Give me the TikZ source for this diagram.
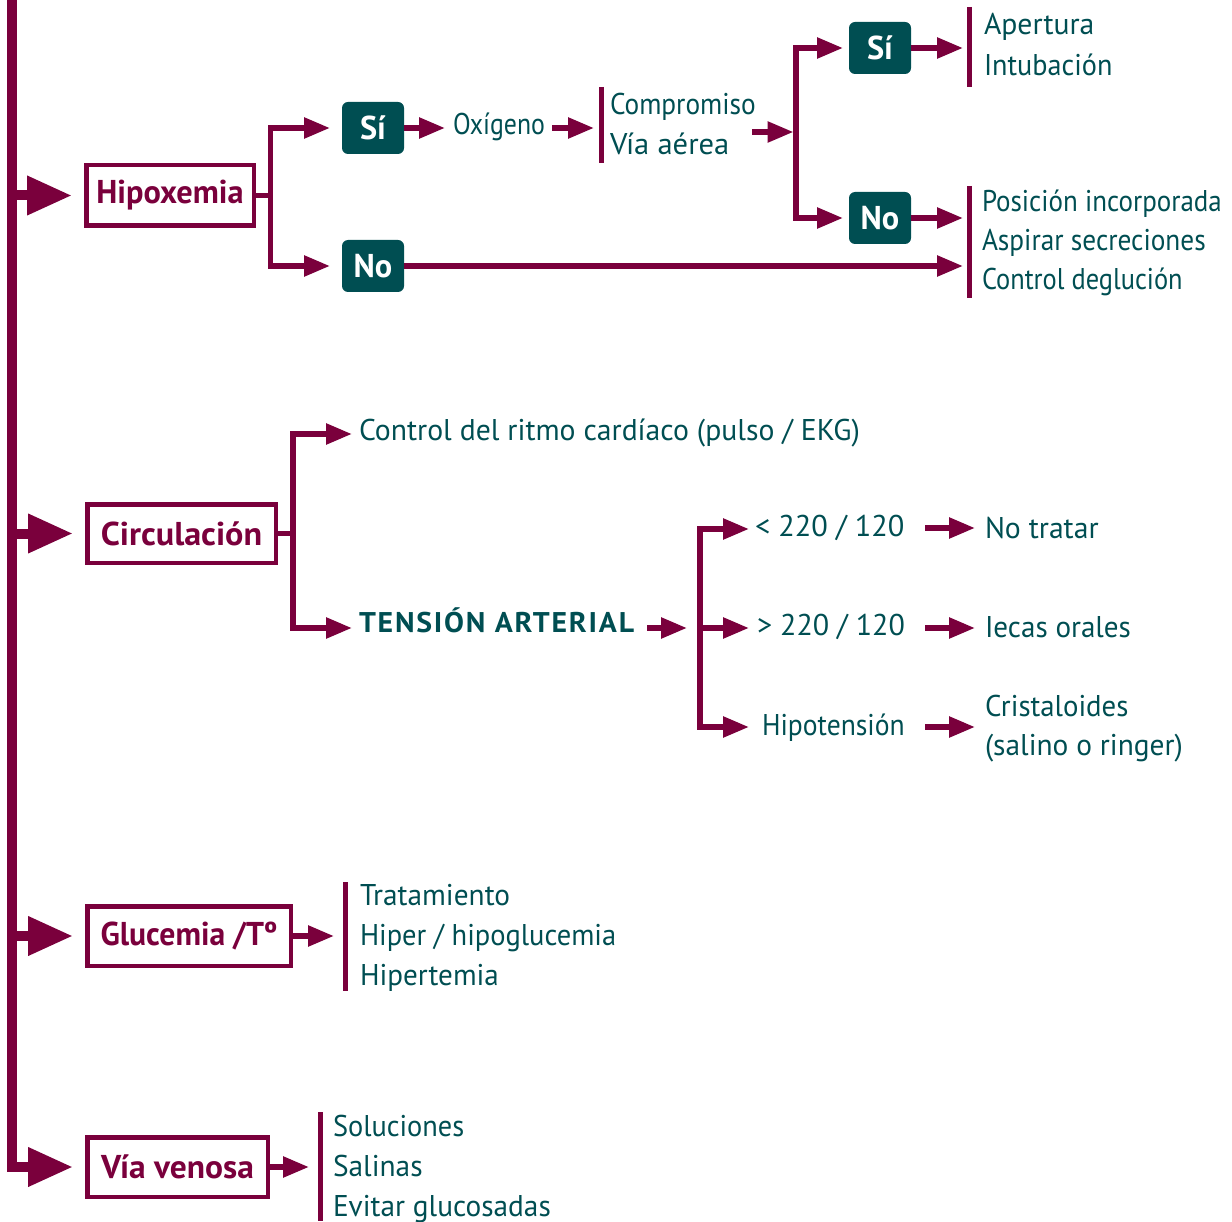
\documentclass[tikz,border=0pt]{standalone}
\usepackage{fontspec}
\setmainfont{PT Sans}
\usetikzlibrary{arrows.meta}
\definecolor{mrn}{RGB}{122,0,60}
\definecolor{tl}{RGB}{0,78,82}
\newcommand\fsz{\fontsize{30pt}{36pt}\selectfont}
\newcommand\fsb{\fontsize{33pt}{36pt}\selectfont\bfseries}
\newcommand\sx[2]{\scalebox{#1}[1]{#2}}
\begin{document}
\begin{tikzpicture}[x=1pt,y=-1pt,
  mbar/.style={line width=10pt, draw=mrn, line join=miter},
  bigarrow/.style={-{Triangle[length=45pt,width=37pt]}},
  br/.style={line width=5.5pt, draw=mrn, line join=miter},
  sarrow/.style={br, -{Triangle[length=26pt,width=20pt]}},
  lbar/.style={line width=5pt, draw=mrn},
  catbox/.style={draw=mrn, line width=4.5pt, inner sep=0pt, outer sep=0pt, font=\fsb, text=mrn},
  decbox/.style={fill=tl, rounded corners=6pt, font=\fsb, text=white, minimum width=62pt, minimum height=52pt, inner sep=0pt, outer sep=0pt},
  txt/.style={text=tl, inner sep=0pt, outer sep=0pt, anchor=base west, font=\fsz},
]
\useasboundingbox (0,0) rectangle (1232,1222);

% ---------- Hipoxemia ----------
\node[catbox, minimum width=167.5pt, minimum height=60.5pt] (hip) at (170,195.5) {\sx{0.98}{Hipoxemia}};
\node[decbox] (si1) at (373,128) {\sx{0.98}{Sí}};
\node[decbox] (no1) at (373,266) {\sx{0.98}{No}};
\node[txt] (oxi) at (453,135) {\sx{0.86}{Oxígeno}};
\node[txt] (comp) at (610,115) {\sx{0.91}{Compromiso}};
\node[txt] (viaa) at (610,155) {\sx{1.02}{Vía aérea}};
\node[decbox] (si2) at (880,48) {\sx{0.98}{Sí}};
\node[decbox] (no2) at (880,218) {\sx{0.98}{No}};
\node[txt] (ape) at (984,35) {\sx{0.99}{Apertura}};
\node[txt] (intu) at (984,76) {\sx{0.94}{Intubación}};
\node[txt] (posi) at (982,212) {\sx{0.90}{Posición incorporada}};
\node[txt] (aspi) at (982,251) {\sx{0.91}{Aspirar secreciones}};
\node[txt] (degl) at (982,290) {\sx{0.88}{Control deglución}};

% ---------- Circulacion ----------
\node[catbox, minimum width=188.5pt, minimum height=58.5pt] (circ) at (181.5,533.5) {\sx{1.035}{Circulación}};
\node[txt] (ritmo) at (359,441) {\sx{0.99}{Control del ritmo cardíaco (pulso / EKG)}};
\node[txt, font=\fontsize{28.5pt}{36pt}\selectfont\bfseries\addfontfeatures{LetterSpace=6}] (ta) at (359,632) {\sx{1.045}{TENSIÓN ARTERIAL}};
\node[txt] (lt) at (755,536) {\sx{1.01}{< 220 / 120}};
\node[txt] (gt) at (757,635) {\sx{1.0}{> 220 / 120}};
\node[txt] (hipo) at (762,735) {\sx{0.92}{Hipotensión}};
\node[txt] (notr) at (985,538) {\sx{0.99}{No tratar}};
\node[txt] (iec) at (985,637) {\sx{0.97}{Iecas orales}};
\node[txt] (cri) at (985,716) {\sx{0.96}{Cristaloides}};
\node[txt] (sal) at (985,755) {\sx{0.98}{(salino o ringer)}};

% ---------- Glucemia ----------
\node[catbox, minimum width=203.5pt, minimum height=59.5pt] (glu) at (189,936) {\sx{0.96}{Glucemia /Tº}};
\node[txt] (trat) at (360,905) {\sx{0.977}{Tratamiento}};
\node[txt] (hipg) at (360,945) {\sx{0.95}{Hiper / hipoglucemia}};
\node[txt] (hipt) at (360,985) {\sx{0.97}{Hipertemia}};

% ---------- Via venosa ----------
\node[catbox, minimum width=180.5pt, minimum height=59.5pt] (ven) at (177.5,1167) {\sx{1.015}{Vía venosa}};
\node[txt] (solu) at (333,1136) {\sx{0.945}{Soluciones}};
\node[txt] (sali) at (333,1176) {\sx{0.98}{Salinas}};
\node[txt] (evit) at (333,1216) {\sx{0.977}{Evitar glucosadas}};

% ---------- coordinates ----------
\coordinate (mtop) at (12,0);
\coordinate (b1t) at (601,87);   \coordinate (b1b) at (601,163);
\coordinate (b2t) at (969.5,7);  \coordinate (b2b) at (969.5,87);
\coordinate (b3t) at (969.5,186);\coordinate (b3b) at (969.5,298);
\coordinate (b4t) at (345.5,882);\coordinate (b4b) at (345.5,991);
\coordinate (b5t) at (320.5,1112);\coordinate (b5b) at (320.5,1221);
\coordinate (ox1) at (552,128);  \coordinate (ox2) at (594,128);
\coordinate (cp1) at (752,132);  \coordinate (cp2) at (793.5,132);
\coordinate (vb) at (796,132);
\coordinate (ra) at (352,434);   \coordinate (tab) at (352,628);
\coordinate (ta1) at (647,628);  \coordinate (ta2) at (687,628);
\coordinate (tv) at (700,628);
\coordinate (lt0) at (749,529);  \coordinate (gt0) at (749,628); \coordinate (hp0) at (749,727);
\coordinate (lt1) at (925,528);  \coordinate (lt2) at (975,528);
\coordinate (gt1) at (925,628);  \coordinate (gt2) at (975,628);
\coordinate (hp1) at (925,727);  \coordinate (hp2) at (975,727);

% ---------- main bar ----------
\draw[mbar, bigarrow] (mtop) |- ([xshift=-14.25pt]ven.west);
\draw[mbar, bigarrow] (mtop |- hip.west) -- ([xshift=-14.25pt]hip.west);
\draw[mbar, bigarrow] (mtop |- circ.west) -- ([xshift=-14.25pt]circ.west);
\draw[mbar, bigarrow] (mtop |- glu.west) -- ([xshift=-14.25pt]glu.west);

% ---------- list bars ----------
\draw[lbar] (b1t) -- (b1b);
\draw[lbar] (b2t) -- (b2b);
\draw[lbar] (b3t) -- (b3b);
\draw[lbar] (b4t) -- (b4b);
\draw[lbar] (b5t) -- (b5b);

% ---------- Hipoxemia connectors ----------
\draw[sarrow] (hip.east) -- ++(16.5,0) |- ([xshift=-12pt]si1.west);
\draw[sarrow] (hip.east) -- ++(16.5,0) |- ([xshift=-12pt]no1.west);
\draw[sarrow] (si1.east) -- ([xshift=-8pt]oxi.west |- si1.east);
\draw[sarrow] (ox1) -- (ox2);
\draw[sarrow] (cp1) -- (cp2);
\draw[sarrow] (vb) |- ([xshift=-6pt]si2.west);
\draw[sarrow] (vb) |- ([xshift=-6pt]no2.west);
\draw[sarrow, shorten >=6.5pt] (si2.east) -- (b2t |- si2.east);
\draw[sarrow, shorten >=6.5pt] (no2.east) -- (b3t |- no2.east);
\draw[sarrow, shorten >=6.5pt] (no1.east) -- (b3t |- no1.east);

% ---------- Circulacion connectors ----------
\draw[sarrow] (circ.east) -- ++(17.25,0) |- (ra);
\draw[sarrow] (circ.east) -- ++(17.25,0) |- (tab);
\draw[sarrow] (ta1) -- (ta2);
\draw[sarrow] (tv) |- (lt0);
\draw[sarrow] (tv) -- (gt0);
\draw[sarrow] (tv) |- (hp0);
\draw[sarrow] (lt1) -- (lt2);
\draw[sarrow] (gt1) -- (gt2);
\draw[sarrow] (hp1) -- (hp2);

% ---------- Glucemia / Via venosa connectors ----------
\draw[sarrow, shorten >=11.5pt] (glu.east) -- (b4t |- glu.east);
\draw[sarrow, shorten >=11.5pt] (ven.east) -- (b5t |- ven.east);
\end{tikzpicture}
\end{document}
